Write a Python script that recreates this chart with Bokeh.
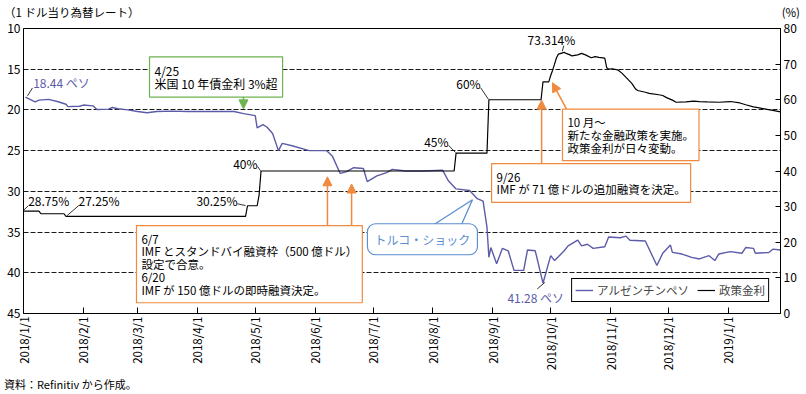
import math
import pandas as pd
from bokeh.plotting import figure
from bokeh.layouts import column
from bokeh.models import (Range1d, LinearAxis, FixedTicker, Label, Arrow, NormalHead,
                          DatetimeTickFormatter, Div)
from bokeh.embed import file_html
from bokeh.resources import INLINE

FONT = "Noto Sans CJK JP"
PURPLE = "#5b5ba8"
ORANGE = "#ef8a3e"
GREEN = "#6db24f"
BLUE = "#5b8fd2"

# ---------------- data ----------------
peso_dates = [
    "2018-01-02", "2018-01-07", "2018-01-09", "2018-01-14", "2018-01-19", "2018-01-23", "2018-01-24",
    "2018-01-30", "2018-02-01", "2018-02-06", "2018-02-08", "2018-02-14", "2018-02-16", "2018-02-19",
    "2018-02-24", "2018-03-01", "2018-03-06", "2018-03-11", "2018-03-19", "2018-03-27", "2018-04-10",
    "2018-04-20", "2018-04-25", "2018-05-01", "2018-05-02", "2018-05-05", "2018-05-07", "2018-05-10",
    "2018-05-13", "2018-05-15", "2018-05-20", "2018-05-29", "2018-06-07", "2018-06-10", "2018-06-14",
    "2018-06-17", "2018-06-21", "2018-06-26", "2018-06-28", "2018-07-03", "2018-07-08", "2018-07-11",
    "2018-07-18", "2018-07-27", "2018-08-06", "2018-08-09", "2018-08-13", "2018-08-20", "2018-08-24",
    "2018-08-27", "2018-08-29", "2018-08-30", "2018-08-31", "2018-09-03", "2018-09-06", "2018-09-09",
    "2018-09-12", "2018-09-17", "2018-09-19", "2018-09-23", "2018-09-27", "2018-10-01", "2018-10-03",
    "2018-10-08", "2018-10-10", "2018-10-15", "2018-10-17", "2018-10-20", "2018-10-23", "2018-10-29",
    "2018-10-31", "2018-11-06", "2018-11-09", "2018-11-11", "2018-11-19", "2018-11-25", "2018-11-28",
    "2018-12-02", "2018-12-03", "2018-12-08", "2018-12-13", "2018-12-17", "2018-12-22", "2018-12-25",
    "2018-12-27", "2019-01-02", "2019-01-08", "2019-01-10", "2019-01-14", "2019-01-15", "2019-01-22",
    "2019-01-24", "2019-01-28",
]
peso_values = [
    18.44, 19.0, 18.8, 18.7, 19.0, 19.3, 19.6,
    19.55, 19.4, 19.5, 19.95, 19.9, 19.7, 19.85,
    20.0, 20.2, 20.35, 20.2, 20.15, 20.2, 20.2,
    20.2, 20.45, 20.7, 22.2, 21.8, 22.1, 22.9,
    25.0, 24.1, 24.4, 25.0, 25.0, 25.7, 27.8,
    27.6, 27.1, 27.2, 28.8, 28.1, 27.7, 27.3,
    27.5, 27.5, 27.4, 28.7, 29.7, 29.9, 30.9,
    31.2, 34.4, 38.1, 36.9, 38.9, 37.0, 37.3,
    39.7, 39.7, 37.2, 37.3, 41.28, 37.9, 38.5,
    37.3, 36.7, 36.0, 36.7, 36.5, 37.0, 36.8,
    35.6, 35.7, 35.5, 36.0, 36.1, 39.1, 37.6,
    36.6, 37.5, 37.7, 38.1, 38.3, 37.9, 38.5,
    37.7, 37.4, 37.6, 36.9, 37.0, 37.6, 37.5,
    37.1, 37.2,
]

rate_dates = [
    "2018-01-01", "2018-01-09", "2018-01-10", "2018-01-22", "2018-01-23", "2018-04-26", "2018-04-27",
    "2018-05-02", "2018-05-03", "2018-05-04", "2018-08-12", "2018-08-13", "2018-08-29", "2018-08-30",
    "2018-09-26", "2018-09-27", "2018-09-30", "2018-10-01", "2018-10-02", "2018-10-03", "2018-10-04",
    "2018-10-05", "2018-10-08", "2018-10-09", "2018-10-11", "2018-10-12", "2018-10-15", "2018-10-17",
    "2018-10-19", "2018-10-22", "2018-10-24", "2018-10-26", "2018-10-29", "2018-10-30", "2018-10-31",
    "2018-11-02", "2018-11-05", "2018-11-07", "2018-11-09", "2018-11-12", "2018-11-14", "2018-11-15",
    "2018-11-19", "2018-11-21", "2018-11-26", "2018-11-28", "2018-11-30", "2018-12-03", "2018-12-05",
    "2018-12-10", "2018-12-14", "2018-12-17", "2018-12-21", "2018-12-27", "2019-01-02", "2019-01-07",
    "2019-01-10", "2019-01-14", "2019-01-17", "2019-01-21", "2019-01-24", "2019-01-28",
]
rate_values = [
    28.75, 28.75, 28.0, 28.0, 27.25, 27.25, 30.25,
    30.25, 33.25, 40.0, 40.0, 45.0, 45.0, 60.0,
    60.0, 65.0, 65.0, 66.8, 68.3, 70.0, 71.8,
    72.8, 73.314, 73.0, 72.6, 72.3, 72.6, 73.0,
    72.6, 71.8, 72.1, 71.9, 71.7, 69.0, 68.6,
    68.7, 68.3, 67.4, 66.3, 64.6, 63.0, 62.6,
    62.1, 61.8, 61.4, 61.2, 60.6, 59.9, 59.3,
    59.4, 59.6, 59.5, 59.4, 59.3, 59.5, 59.1,
    58.6, 58.0, 57.7, 57.3, 57.0, 56.6,
]

tick_dates = ["2018-01-01", "2018-02-01", "2018-03-01", "2018-04-01", "2018-05-01", "2018-06-01",
              "2018-07-01", "2018-08-01", "2018-09-01", "2018-10-01", "2018-11-01", "2018-12-01",
              "2019-01-01"]
tick_labels = ["2018/1/1", "2018/2/1", "2018/3/1", "2018/4/1", "2018/5/1", "2018/6/1",
               "2018/7/1", "2018/8/1", "2018/9/1", "2018/10/1", "2018/11/1", "2018/12/1",
               "2019/1/1"]
left_ticks = [10, 15, 20, 25, 30, 35, 40, 45]
right_ticks = [0, 10, 20, 30, 40, 50, 60, 70, 80]

legend_peso = "アルゼンチンペソ"
legend_rate = "政策金利"
title_left = "（1 ドル当り為替レート）"
title_right = "(%)"
source_note = "資料：Refinitiv から作成。"


def ms(s):
    return int(pd.Timestamp(s).value // 10**6)


def d(n):
    return (pd.Timestamp("2018-01-01") + pd.Timedelta(days=n)).value / 1e6


X_START = ms("2018-01-01")
X_END = ms("2019-01-28")

# ---------------- figure ----------------
p = figure(width=806, height=360, x_axis_type="datetime", title=None,
           x_range=Range1d(X_START, X_END),
           y_range=Range1d(45, 10),
           output_backend="svg", toolbar_location=None,
           min_border_left=23, min_border_right=26, min_border_top=10, min_border_bottom=65,
           background_fill_color="white", border_fill_color="white")
p.extra_y_ranges = {"rate": Range1d(0, 80)}

p.outline_line_color = "black"
p.outline_line_width = 1
p.outline_line_alpha = 1

# left axis
ly = p.yaxis[0]
ly.axis_label = None
ly.ticker = FixedTicker(ticks=left_ticks)
ly.major_tick_in = 0
ly.major_tick_out = 0
ly.minor_tick_line_color = None
ly.major_label_standoff = 3
ly.axis_line_color = "black"
ly.major_label_text_font = FONT
ly.major_label_text_font_size = "12px"
ly.major_label_text_color = "black"

# right axis
ry = LinearAxis(y_range_name="rate", ticker=FixedTicker(ticks=right_ticks))
ry.major_tick_in = 5
ry.major_tick_out = 0
ry.minor_tick_line_color = None
ry.major_label_standoff = 3
ry.axis_line_color = "black"
ry.major_label_text_font = FONT
ry.major_label_text_font_size = "12px"
ry.major_label_text_color = "black"
p.add_layout(ry, "right")

# bottom axis
bx = p.xaxis[0]
bx.axis_label = None
bx.ticker = FixedTicker(ticks=[ms(t) for t in tick_dates])
bx.formatter = DatetimeTickFormatter(months="%Y/%m/%d", days="%Y/%m/%d")
bx.major_label_overrides = {ms(t): lab for t, lab in zip(tick_dates, tick_labels)}
bx.major_label_orientation = math.pi / 2
bx.major_tick_in = 6
bx.major_tick_out = 0
bx.minor_tick_line_color = None
bx.major_label_standoff = 3
bx.axis_line_color = "black"
bx.major_label_text_font = FONT
bx.major_label_text_font_size = "11.5px"
bx.major_label_text_color = "black"

p.xgrid.grid_line_color = None
p.ygrid.ticker = FixedTicker(ticks=left_ticks)
p.ygrid.grid_line_color = "black"
p.ygrid.grid_line_dash = "5 2"
p.ygrid.grid_line_width = 0.9

# ---------------- series ----------------
p.line(pd.to_datetime(peso_dates), peso_values, line_color=PURPLE, line_width=1.4,
       legend_label=legend_peso)
p.line(pd.to_datetime(rate_dates), rate_values, y_range_name="rate", line_color="black",
       line_width=1.2, legend_label=legend_rate)

lg = p.legend[0]
lg.location = "bottom_right"
lg.orientation = "horizontal"
lg.border_line_color = "black"
lg.border_line_width = 1
lg.border_line_alpha = 1
lg.padding = 3
lg.spacing = 8
lg.margin = 11
lg.label_text_font = FONT
lg.label_text_font_size = "11.5px"
lg.glyph_width = 18
lg.glyph_height = 14
lg.label_height = 14
lg.label_width = 10
lg.label_standoff = 4
lg.background_fill_alpha = 1

# ---------------- annotations ----------------
# leader lines (left range)
p.segment(x0=[d(2.07), d(266.0)], y0=[18.27, 41.99], x1=[d(4.66), d(270.0)], y1=[17.3, 41.18],
          line_color="black", line_width=0.8)
# leader lines (right range)
p.segment(x0=[d(0.16), d(22.6), d(110.7), d(121.2), d(220.1), d(236.7), d(279.8)],
          y0=[29.05, 27.5, 30.8, 41.3, 47.2, 63.4, 75.2],
          x1=[d(2.43), d(28.6), d(115.0), d(122.7), d(223.7), d(240.8), d(279.0)],
          y1=[30.2, 30.3, 30.3, 40.1, 45.2, 60.1, 73.6],
          y_range_name="rate", line_color="black", line_width=0.8)


def txt(x, y, text, rng="default", align="left", color="black", size="12px", baseline="middle"):
    p.add_layout(Label(x=x, y=y, text=text, y_range_name=rng, text_align=align,
                       text_baseline=baseline, text_color=color, text_font=FONT,
                       text_font_size=size))


txt(d(5.0), 16.6, "18.44 ペソ", color=PURPLE)
txt(d(250.6), 43.06, "41.28 ペソ", color=PURPLE)
txt(d(2.43), 31.7, "28.75%", rng="rate")
txt(d(28.5), 31.7, "27.25%", rng="rate")
txt(d(110.8), 31.7, "30.25%", rng="rate", align="right")
txt(d(121.2), 42.1, "40%", rng="rate", align="right")
txt(d(220.1), 48.4, "45%", rng="rate", align="right")
txt(d(236.7), 64.6, "60%", rng="rate", align="right")
txt(d(273.4), 76.9, "73.314%", rng="rate", align="center")


# arrows
def arrow(x0, y0, x1, y1, color):
    p.add_layout(Arrow(end=NormalHead(size=9, fill_color=color, line_color=color),
                       x_start=x0, y_start=y0, x_end=x1, y_end=y1,
                       line_color=color, line_width=1.5))


arrow(d(113.9), 17.9, d(113.9), 19.87, GREEN)
arrow(d(157.4), 34.2, d(157.4), 28.21, ORANGE)
arrow(d(169.9), 34.2, d(169.9), 29.1, ORANGE)
arrow(d(268.3), 26.6, d(268.3), 18.8, ORANGE)
arrow(d(281.2), 19.9, d(273.9), 16.67, ORANGE)

# callout tail
p.patch(x=[d(210.8), d(232.5), d(226.3)], y=[34.34, 31.03, 34.34],
        fill_color="white", line_color=BLUE, line_width=1.3)


def box(x, y, text, color, pad=5, radius=0, tcolor="black", size="11.5px", lh=0.8):
    p.add_layout(Label(x=x, y=y, text=text, anchor="top_left", text_align="left",
                       text_color=tcolor, text_font=FONT, text_font_size=size,
                       text_line_height=lh, padding=pad, border_radius=radius,
                       background_fill_color="white", background_fill_alpha=1,
                       border_line_color=color, border_line_width=1.2))


box(d(65.25), 13.48, "4/25\n米国 10 年債金利 3%超", GREEN, size="12px", lh=0.78)
box(d(279.1), 19.9, "10 月～\n新たな金融政策を実施。\n政策金利が日々変動。", ORANGE)
box(d(242.4), 26.6, "9/26\nIMF が 71 億ドルの追加融資を決定。", ORANGE)
box(d(58.5), 34.2, "6/7\nIMF とスタンドバイ融資枠（500 億ドル）\n設定で合意。\n6/20\nIMF が 150 億ドルの即時融資決定。", ORANGE)
box(d(178.1), 33.98, "トルコ・ショック", BLUE, pad=7, radius=8, tcolor=BLUE, size="12px")

# ---------------- texts outside the plot frame ----------------
base_css = f"font-family:'{FONT}';font-size:11.5px;color:#000;white-space:nowrap;position:absolute;"
top_div = Div(width=806, height=18, margin=0,
              text=(f'<div style="position:relative;width:806px;height:18px;">'
                    f'<span style="{base_css}left:4px;top:6px;line-height:12px;">{title_left}</span>'
                    f'<span style="{base_css}right:6px;top:6px;line-height:12px;">{title_right}</span>'
                    f'</div>'))
bottom_div = Div(width=806, height=16, margin=0,
                 text=(f'<div style="position:relative;width:806px;height:16px;">'
                       f'<span style="{base_css}left:4px;top:0px;line-height:12px;font-size:11px;">'
                       f'{source_note}</span></div>'))

layout = column(top_div, p, bottom_div, spacing=0)

open("out.html", "w").write(file_html(layout, INLINE))
